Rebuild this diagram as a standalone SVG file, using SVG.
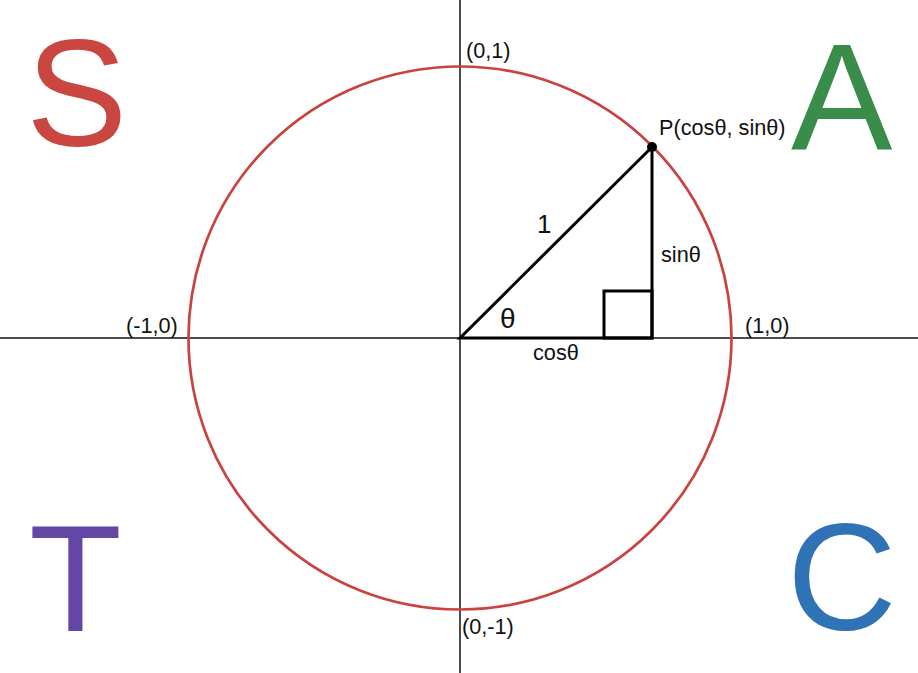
<svg xmlns="http://www.w3.org/2000/svg" width="918" height="673" viewBox="0 0 918 673">
<style>
text{font-family:"Liberation Sans",Arial,sans-serif;fill:#111}
.lbl{font-size:21.7px}
.big{font-size:152px}
.axis{stroke:#111;stroke-width:1.5;fill:none}
.tri{stroke:#000;stroke-width:3;fill:none;stroke-linejoin:miter}
</style>
<rect width="918" height="673" fill="#fff"/>
<g id="axes">
<line class="axis" x1="0" y1="338" x2="918" y2="338"/>
<line class="axis" x1="460" y1="0" x2="460" y2="673"/>
</g>
<g id="circle">
<circle cx="460" cy="338" r="271.5" fill="none" stroke="#c9433f" stroke-width="2.7"/>
</g>
<g id="triangle">
<path class="tri" d="M460,338 L652,147 L652,338 Z"/>
<rect class="tri" x="604" y="291" width="48" height="47"/>
<circle cx="652" cy="147" r="5" fill="#000"/>
</g>
<g id="labels">
<text class="lbl" x="466" y="58">(0,1)</text>
<text class="lbl" x="126" y="333">(-1,0)</text>
<text class="lbl" x="745" y="333">(1,0)</text>
<text class="lbl" x="462" y="634">(0,-1)</text>
<text class="lbl" x="659" y="135">P(cosθ, sinθ)</text>
<text class="lbl" x="661" y="262">sinθ</text>
<text class="lbl" x="533" y="360">cosθ</text>
<text x="537" y="233" style="font-size:26px">1</text>
<text x="500" y="328" style="font-size:28px">θ</text>
</g>
<g id="quadrants">
<text class="big" x="26" y="146" style="fill:#c94641">S</text>
<text class="big" x="791" y="150" style="fill:#3a8c4a">A</text>
<text class="big" x="29" y="631" style="fill:#6446a6">T</text>
<text class="big" x="787" y="630" style="fill:#2f72b5">C</text>
</g>
</svg>
